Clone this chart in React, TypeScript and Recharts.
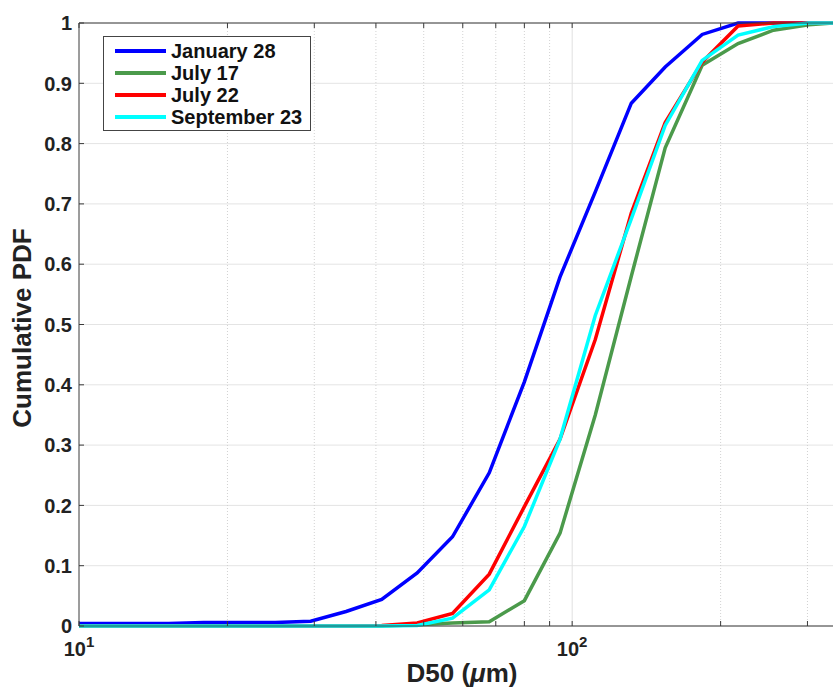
import React from "react";
import {
    LineChart,
    Line,
    XAxis,
    YAxis,
    CartesianGrid,
    ReferenceLine,
} from "recharts";

// D50 bin centres (um)
const sizes = [
    10, 12.9, 15.2, 17.9, 21.2, 25, 29.5, 34.8, 41.1, 48.5, 57.2, 67.9, 80,
    94.5, 111.4, 131.8, 154.4, 183.5, 217, 256, 302, 338,
];

const january28 = [
    0.004, 0.004, 0.004, 0.006, 0.006, 0.006, 0.008, 0.024, 0.044, 0.088,
    0.148, 0.254, 0.405, 0.579, 0.72, 0.867, 0.927, 0.981, 1, 1, 1, 1,
];
const july17 = [
    0, 0, 0, 0, 0, 0, 0, 0, 0, 0.002, 0.005, 0.007, 0.042, 0.154, 0.35, 0.58,
    0.793, 0.93, 0.966, 0.988, 0.997, 1,
];
const july22 = [
    0, 0, 0, 0, 0, 0, 0, 0, 0.001, 0.005, 0.021, 0.086, 0.198, 0.31, 0.475,
    0.685, 0.835, 0.935, 0.995, 1, 1, 1,
];
const september23 = [
    0, 0, 0, 0, 0, 0, 0, 0, 0, 0.001, 0.013, 0.06, 0.165, 0.31, 0.515, 0.675,
    0.83, 0.938, 0.98, 0.994, 1, 1,
];

const xTicks = [10, 20, 30, 40, 50, 60, 70, 80, 90, 100, 200, 300];
const yTicks = [0, 0.1, 0.2, 0.3, 0.4, 0.5, 0.6, 0.7, 0.8, 0.9, 1];

const series = [
    { key: "jan28", name: "January 28", color: "#0000ff", values: january28 },
    { key: "jul17", name: "July 17", color: "#4b9a4b", values: july17 },
    { key: "jul22", name: "July 22", color: "#ff0000", values: july22 },
    { key: "sep23", name: "September 23", color: "#00ffff", values: september23 },
];

const data = sizes.map((d, i) => {
    const row: Record<string, number> = { d };
    series.forEach((s) => (row[s.key] = s.values[i]));
    return row;
});

const W = 833;
const H = 689;
const FONT = "'Liberation Sans', Arial, Helvetica, sans-serif";
const AXIS = "#3a3a3a";
const TICK_LEN = 5;

function BottomTick({ x, y, payload }: any) {
    const v = payload.value;
    const major = v === 10 || v === 100;
    return (
        <g>
            <line x1={x} x2={x} y1={y} y2={y - TICK_LEN} stroke={AXIS} />
            {major && (
                <text
                    x={x}
                    y={y + 30}
                    textAnchor="middle"
                    fontFamily={FONT}
                    fontWeight="bold"
                    fontSize={20}
                    fill="#222"
                >
                    10
                    <tspan dy={-9} fontSize={15}>
                        {Math.round(Math.log10(v))}
                    </tspan>
                </text>
            )}
        </g>
    );
}

function TopTick({ x, y }: any) {
    return <line x1={x} x2={x} y1={y} y2={y + TICK_LEN} stroke={AXIS} />;
}

function LeftTick({ x, y, payload }: any) {
    return (
        <g>
            <line x1={x} x2={x + TICK_LEN} y1={y} y2={y} stroke={AXIS} />
            <text
                x={x - 7}
                y={y}
                dy="0.36em"
                textAnchor="end"
                fontFamily={FONT}
                fontWeight="bold"
                fontSize={20}
                fill="#222"
            >
                {String(Math.round(payload.value * 10) / 10)}
            </text>
        </g>
    );
}

export default function App() {
    return (
        <div style={{ position: "relative", width: W, height: H, background: "#fff" }}>
            <style>{`body{margin:0}`}</style>
            <LineChart
                width={W}
                height={H}
                data={data}
                margin={{ top: 0, right: 0, bottom: 0, left: 0 }}
            >
                <CartesianGrid vertical={false} stroke="#e4e4e4" />
                {xTicks
                    .filter((t) => t !== 10)
                    .map((t) => (
                        <ReferenceLine
                            key={t}
                            x={t}
                            stroke={t === 100 ? "#e0e0e0" : "#d2d2d2"}
                            strokeDasharray={t === 100 ? undefined : "1 2"}
                        />
                    ))}
                <XAxis
                    dataKey="d"
                    type="number"
                    scale="log"
                    domain={[10, 338]}
                    allowDataOverflow
                    ticks={xTicks}
                    interval={0}
                    height={63}
                    tickSize={0}
                    tickMargin={0}
                    tickLine={false}
                    tick={<BottomTick />}
                    axisLine={{ stroke: AXIS }}
                />
                <XAxis
                    xAxisId="top"
                    orientation="top"
                    dataKey="d"
                    type="number"
                    scale="log"
                    domain={[10, 338]}
                    allowDataOverflow
                    ticks={xTicks}
                    interval={0}
                    height={23}
                    tickSize={0}
                    tickMargin={0}
                    tickLine={false}
                    tick={<TopTick />}
                    axisLine={{ stroke: AXIS }}
                />
                <YAxis
                    type="number"
                    domain={[0, 1]}
                    ticks={yTicks}
                    interval={0}
                    width={79}
                    tickSize={0}
                    tickMargin={0}
                    tickLine={false}
                    tick={<LeftTick />}
                    axisLine={{ stroke: AXIS }}
                />
                {series.map((s) => (
                    <Line
                        key={s.key}
                        dataKey={s.key}
                        name={s.name}
                        stroke={s.color}
                        strokeWidth={3.5}
                        dot={false}
                        activeDot={false}
                        isAnimationActive={false}
                    />
                ))}
            </LineChart>

            {/* axis titles */}
            <svg
                width={W}
                height={H}
                style={{ position: "absolute", left: 0, top: 0, pointerEvents: "none" }}
            >
                <text
                    x={462}
                    y={682}
                    textAnchor="middle"
                    fontFamily={FONT}
                    fontWeight="bold"
                    fontSize={26}
                    fill="#222"
                >
                    D50 (<tspan fontStyle="italic">μ</tspan>m)
                </text>
                <text
                    transform="translate(31,328) rotate(-90)"
                    textAnchor="middle"
                    fontFamily={FONT}
                    fontWeight="bold"
                    fontSize={26}
                    fill="#222"
                >
                    Cumulative PDF
                </text>
            </svg>

            {/* legend box */}
            <div
                style={{
                    position: "absolute",
                    left: 103,
                    top: 36,
                    width: 206,
                    height: 93,
                    border: "1px solid #444",
                    background: "#fff",
                    fontFamily: FONT,
                    fontWeight: "bold",
                    fontSize: 20,
                    color: "#111",
                    boxSizing: "content-box",
                }}
            >
                {series.map((s, i) => (
                    <div
                        key={s.key}
                        style={{
                            position: "absolute",
                            left: 0,
                            top: 3 + i * 22,
                            height: 22,
                            display: "flex",
                            alignItems: "center",
                            whiteSpace: "nowrap",
                        }}
                    >
                        <div
                            style={{
                                marginLeft: 11,
                                width: 51,
                                height: 3.5,
                                background: s.color,
                            }}
                        />
                        <span style={{ marginLeft: 5 }}>{s.name}</span>
                    </div>
                ))}
            </div>
        </div>
    );
}
